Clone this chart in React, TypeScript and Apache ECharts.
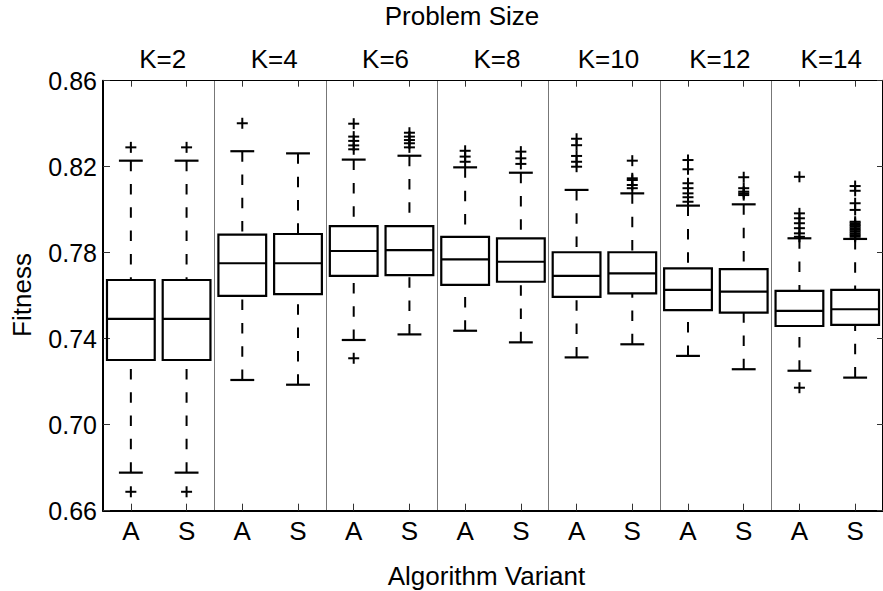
import React, { useEffect, useRef } from "react";
import * as echarts from "echarts";

const groups = ["K=2", "K=4", "K=6", "K=8", "K=10", "K=12", "K=14"];
const variants = ["A", "S"];
const yTicks = { min: 0.66, max: 0.86, step: 0.04 };

// box statistics per box (A,S for each K)
const lowerWhisker = [0.6777, 0.6777, 0.7208, 0.7186, 0.7394, 0.742, 0.7437, 0.7383, 0.7313, 0.7374, 0.732, 0.7258, 0.7251, 0.7219];
const q1 = [0.7301, 0.7301, 0.7599, 0.7607, 0.7692, 0.7696, 0.765, 0.7665, 0.7595, 0.7611, 0.7533, 0.7521, 0.7459, 0.7464];
const median = [0.7492, 0.7492, 0.7751, 0.7751, 0.7808, 0.7812, 0.7769, 0.7758, 0.7692, 0.7704, 0.7627, 0.7619, 0.7529, 0.7537];
const q3 = [0.7673, 0.7673, 0.7884, 0.7887, 0.7924, 0.7924, 0.7874, 0.7867, 0.7802, 0.7802, 0.7727, 0.7724, 0.7622, 0.7627];
const upperWhisker = [0.8228, 0.8228, 0.8272, 0.8262, 0.8233, 0.8251, 0.8197, 0.8172, 0.8092, 0.8076, 0.8019, 0.8025, 0.7867, 0.7864];
const outliers: number[][] = [
  [0.6688, 0.829],
  [0.6688, 0.829],
  [0.8402],
  [],
  [0.7309, 0.8281, 0.8299, 0.832, 0.834, 0.84],
  [0.829, 0.8309, 0.8324, 0.834, 0.8358],
  [0.8223, 0.8247, 0.8274],
  [0.8213, 0.8239, 0.827],
  [0.82, 0.8223, 0.825, 0.83, 0.833],
  [0.81, 0.8115, 0.8138, 0.8146, 0.8228],
  [0.8037, 0.8058, 0.8076, 0.81, 0.8123, 0.8188, 0.8231],
  [0.8068, 0.8076, 0.8084, 0.81, 0.8151],
  [0.7172, 0.7874, 0.789, 0.7914, 0.7937, 0.796, 0.7983, 0.8153],
  [0.7874, 0.7882, 0.789, 0.7898, 0.7906, 0.7914, 0.7922, 0.7929, 0.7937, 0.7944, 0.7999, 0.803, 0.8088, 0.811],
];

const FONT = "'Liberation Sans', Arial, Helvetica, sans-serif";

export default function App() {
  const ref = useRef<HTMLDivElement>(null);
  useEffect(() => {
    if (!ref.current) return;
    const chart = echarts.init(ref.current, undefined, { renderer: "svg" });
    const boxCats: string[] = [];
    groups.forEach(() => variants.forEach((v) => boxCats.push(v)));
    const boxData = boxCats.map((_, i) => [i, lowerWhisker[i], q1[i], median[i], q3[i], upperWhisker[i]]);
    const outData: number[][] = [];
    outliers.forEach((arr, i) => arr.forEach((v) => outData.push([i, v])));

    const black = "#000";
    chart.setOption({
      animation: false,
      grid: { left: 103, top: 80.7, width: 784, height: 430, containLabel: false },
      xAxis: [
        {
          type: "category",
          data: boxCats,
          position: "bottom",
          boundaryGap: true,
          axisLine: { show: true, onZero: false, lineStyle: { color: black, width: 2 } },
          axisTick: { show: true, inside: true, length: 7, alignWithLabel: true, lineStyle: { color: "#333", width: 1 } },
          axisLabel: { show: true, interval: 0, color: black, fontSize: 26, fontFamily: FONT, margin: 7 },
          splitLine: { show: false },
        },
        {
          type: "category",
          data: boxCats,
          position: "top",
          boundaryGap: true,
          axisLine: { show: true, onZero: false, lineStyle: { color: black, width: 1 } },
          axisTick: { show: true, inside: true, length: 6, alignWithLabel: true, lineStyle: { color: "#333", width: 1 } },
          axisLabel: { show: false },
          splitLine: { show: false },
        },
        {
          type: "category",
          data: groups,
          position: "top",
          boundaryGap: true,
          axisLine: { show: false },
          axisTick: { show: false },
          axisLabel: { show: true, interval: 0, color: black, fontSize: 26, fontFamily: FONT, margin: 9, padding: [0, 0, 0, 8] },
          splitLine: { show: true, interval: 0, lineStyle: { color: "#777", width: 1 } },
        },
      ],
      yAxis: [
        {
          type: "value",
          min: yTicks.min,
          max: yTicks.max,
          interval: yTicks.step,
          position: "left",
          axisLine: { show: true, lineStyle: { color: black, width: 2 } },
          axisTick: { show: true, inside: true, length: 7, lineStyle: { color: "#333", width: 1 } },
          axisLabel: { color: black, fontSize: 25, fontFamily: FONT, margin: 6, formatter: (v: number) => v.toFixed(2) },
          splitLine: { show: false },
        },
        {
          type: "value",
          min: yTicks.min,
          max: yTicks.max,
          interval: yTicks.step,
          position: "right",
          axisLine: { show: true, lineStyle: { color: black, width: 2 } },
          axisTick: { show: true, inside: true, length: 6, lineStyle: { color: "#333", width: 1 } },
          axisLabel: { show: false },
          splitLine: { show: false },
        },
      ],
      series: [
        {
          type: "custom",
          xAxisIndex: 0,
          yAxisIndex: 0,
          data: boxData,
          encode: { x: 0, y: [1, 2, 3, 4, 5] },
          renderItem: (params: any, api: any) => {
            const x = api.value(0);
            const lo = api.coord([x, api.value(1)]);
            const a = api.coord([x, api.value(2)]);
            const m = api.coord([x, api.value(3)]);
            const b = api.coord([x, api.value(4)]);
            const hi = api.coord([x, api.value(5)]);
            const band = api.size([1, 0])[0];
            const bw = (band * 48) / 56;
            const cw = bw / 2;
            const cx = lo[0];
            const solid = { stroke: black, lineWidth: 2.2, fill: "none" };
            const dashed = { stroke: black, lineWidth: 2, lineDash: [10.5, 12.8] };
            return {
              type: "group",
              children: [
                { type: "line", shape: { x1: cx, y1: hi[1], x2: cx, y2: b[1] }, style: dashed },
                { type: "line", shape: { x1: cx, y1: lo[1], x2: cx, y2: a[1] }, style: dashed },
                { type: "line", shape: { x1: cx - cw / 2, y1: hi[1], x2: cx + cw / 2, y2: hi[1] }, style: solid },
                { type: "line", shape: { x1: cx - cw / 2, y1: lo[1], x2: cx + cw / 2, y2: lo[1] }, style: solid },
                { type: "rect", shape: { x: cx - bw / 2, y: b[1], width: bw, height: a[1] - b[1] }, style: solid },
                { type: "line", shape: { x1: cx - bw / 2, y1: m[1], x2: cx + bw / 2, y2: m[1] }, style: solid },
              ],
            };
          },
          z: 3,
        },
        {
          type: "custom",
          xAxisIndex: 0,
          yAxisIndex: 0,
          data: outData,
          encode: { x: 0, y: 1 },
          renderItem: (params: any, api: any) => {
            const p = api.coord([api.value(0), api.value(1)]);
            const h = 5.5;
            const st = { stroke: black, lineWidth: 2 };
            return {
              type: "group",
              children: [
                { type: "line", shape: { x1: p[0] - h, y1: p[1], x2: p[0] + h, y2: p[1] }, style: st },
                { type: "line", shape: { x1: p[0], y1: p[1] - h, x2: p[0], y2: p[1] + h }, style: st },
              ],
            };
          },
          z: 3,
        },
      ],
      graphic: [
        {
          type: "text",
          x: 462,
          y: 16,
          style: { text: "Problem Size", fontSize: 26, fontFamily: FONT, fill: black, textAlign: "center", textVerticalAlign: "middle" },
        },
        {
          type: "text",
          x: 486.5,
          y: 576,
          style: { text: "Algorithm Variant", fontSize: 26, fontFamily: FONT, fill: black, textAlign: "center", textVerticalAlign: "middle" },
        },
        {
          type: "text",
          x: 22,
          y: 295,
          rotation: Math.PI / 2,
          style: { text: "Fitness", fontSize: 26, fontFamily: FONT, fill: black, textAlign: "center", textVerticalAlign: "middle" },
        },
      ],
    });
    return () => chart.dispose();
  }, []);
  return <div ref={ref} style={{ position: "absolute", left: 0, top: 0, width: 883, height: 591, background: "#fff" }} />;
}
